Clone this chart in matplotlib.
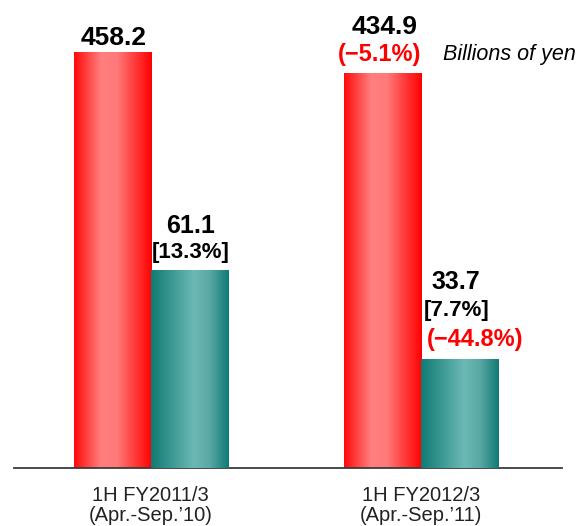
import numpy as np
import matplotlib
matplotlib.use("Agg")
import matplotlib.pyplot as plt
from matplotlib.colors import LinearSegmentedColormap

categories = ["1H FY2011/3\n(Apr.-Sep.\u201910)", "1H FY2012/3\n(Apr.-Sep.\u201911)"]
net_sales = [458.2, 434.9]
op_income = [61.1, 33.7]
op_margin = ["[13.3%]", "[7.7%]"]
sales_change = [None, "(\u22125.1%)"]
income_change = [None, "(\u221244.8%)"]
unit_label = "Billions of yen"

W, H = 579, 526
fig = plt.figure(figsize=(W / 100, H / 100), dpi=100)
base_px = 468
ax = fig.add_axes([14 / W, (H - base_px) / H, (562 - 14) / W, base_px / H])
ax2 = ax.twinx()

red_cmap = LinearSegmentedColormap.from_list(
    "red", [(0, "#ff0a0a"), (0.35, "#ff7f7f"), (0.55, "#ff7a7a"), (1, "#ff0000")])
teal_cmap = LinearSegmentedColormap.from_list(
    "teal", [(0, "#0f7b73"), (0.55, "#6cb8b5"), (0.75, "#5aa9a6"), (1, "#117a74")])

x = np.arange(len(categories))
bw = 0.285
grad = np.linspace(0, 1, 256).reshape(1, -1)

def gradient_bars(axis, xs, vals, cmap):
    bars = axis.bar(xs, vals, bw, color="none", edgecolor="none")
    for b in bars:
        x0, w, h = b.get_x(), b.get_width(), b.get_height()
        im = axis.imshow(grad, cmap=cmap, extent=(x0, x0 + w, 0, h),
                         aspect="auto", origin="lower", zorder=2)
        im.set_clip_path(b)
    return bars

gradient_bars(ax, x - bw / 2, net_sales, red_cmap)
gradient_bars(ax2, x + bw / 2, op_income, teal_cmap)

ax.set_xlim(-0.505, 1.52)
ax.set_ylim(0, 515.5)
ax2.set_ylim(0, 144.4)
ax2.set_xlim(-0.505, 1.52)

for a in (ax, ax2):
    for s in ("top", "right", "left"):
        a.spines[s].set_visible(False)
    a.set_yticks([])
ax2.spines["bottom"].set_visible(False)
ax.spines["bottom"].set_color("#3a3a3a")
ax.spines["bottom"].set_linewidth(1.3)
ax.set_xticks(x)
ax.set_xticklabels(categories, fontsize=14.5, family="Liberation Sans",
                   color="#222222", linespacing=1.08)
ax.tick_params(axis="x", length=0, pad=13)

def lab(axis, xv, yv, txt, dx, dy, size, color="black", weight="bold"):
    axis.annotate(txt, xy=(xv, yv), xytext=(dx, dy), textcoords="offset pixels",
                  family="Liberation Sans", fontweight=weight, ha="center",
                  va="baseline", fontsize=size, color=color, zorder=5)

# net sales labels
lab(ax, x[0] - bw / 2, net_sales[0], f"{net_sales[0]:.1f}", 2, 7, 19)
lab(ax, x[1] - bw / 2, net_sales[1], f"{net_sales[1]:.1f}", 2, 39, 19)
lab(ax, x[1] - bw / 2, net_sales[1], sales_change[1], -3, 12, 17, color="#ff0000")

# operating income labels
lab(ax2, x[0] + bw / 2, op_income[0], f"{op_income[0]:.1f}", 1, 37, 18)
lab(ax2, x[0] + bw / 2, op_income[0], op_margin[0], 1, 12, 16)
lab(ax2, x[1] + bw / 2, op_income[1], f"{op_income[1]:.1f}", -4, 70, 18)
lab(ax2, x[1] + bw / 2, op_income[1], op_margin[1], -3, 43, 16)
lab(ax2, x[1] + bw / 2, op_income[1], income_change[1], 15, 13, 17, color="#ff0000")

fig.text(443 / W, 1 - 60 / H, unit_label, fontsize=15.5, style="italic",
         family="Liberation Sans", ha="left", va="baseline", color="black")

fig.savefig("out.png", dpi=100)
